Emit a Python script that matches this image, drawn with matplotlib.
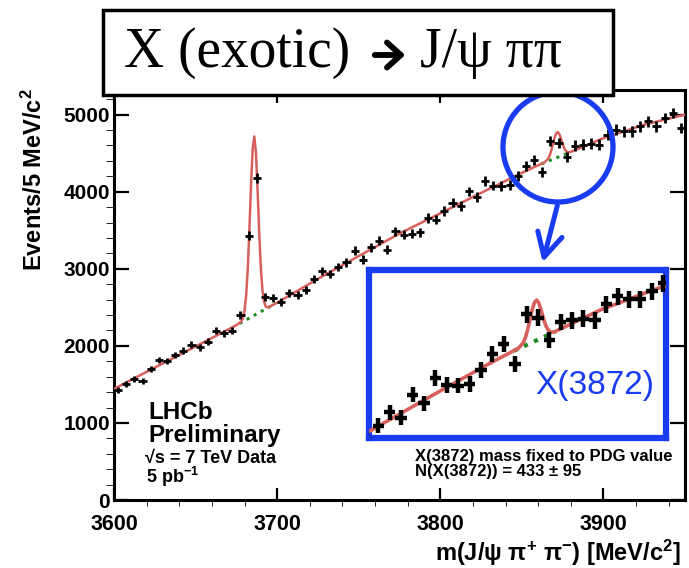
import numpy as np
import matplotlib.pyplot as plt
from matplotlib.patches import Rectangle, Ellipse, FancyArrowPatch

plt.rcParams['font.family'] = ['Liberation Sans', 'DejaVu Sans']
plt.rcParams['font.weight'] = 'bold'
plt.rcParams['mathtext.fontset'] = 'custom'
plt.rcParams['mathtext.bf'] = 'Liberation Sans:bold'
plt.rcParams['mathtext.rm'] = 'Liberation Sans:bold'
plt.rcParams['mathtext.default'] = 'bf'

# data: 5 MeV bins, m(J/psi pi+ pi-)
mass = [3602.5, 3607.5, 3612.5, 3617.5, 3622.5, 3627.5, 3632.5, 3637.5, 3642.5, 3647.5,
        3652.5, 3657.5, 3662.5, 3667.5, 3672.5, 3677.5, 3682.5, 3687.5, 3692.5, 3697.5,
        3702.5, 3707.5, 3712.5, 3717.5, 3722.5, 3727.5, 3732.5, 3737.5, 3742.5, 3747.5,
        3752.5, 3757.5, 3762.5, 3767.5, 3772.5, 3777.5, 3782.5, 3787.5, 3792.5, 3797.5,
        3802.5, 3807.5, 3812.5, 3817.5, 3822.5, 3827.5, 3832.5, 3837.5, 3842.5, 3847.5,
        3852.5, 3857.5, 3862.5, 3867.5, 3872.5, 3877.5, 3882.5, 3887.5, 3892.5, 3897.5,
        3902.5, 3907.5, 3912.5, 3917.5, 3922.5, 3927.5, 3932.5, 3937.5, 3942.5, 3947.5]
events = [1430, 1506, 1567, 1550, 1701, 1818, 1805, 1883, 1939, 2013,
          1983, 2056, 2199, 2165, 2199, 2403, 3429, 4178, 2632, 2619,
          2570, 2684, 2662, 2722, 2872, 2970, 2930, 3022, 3082, 3234,
          3117, 3277, 3364, 3247, 3485, 3442, 3455, 3472, 3658, 3636,
          3750, 3860, 3815, 4004, 3932, 4138, 4080, 4078, 4091, 4203,
          4333, 4416, 4250, 4660, 4632, 4451, 4597, 4610, 4623, 4610,
          4740, 4805, 4783, 4783, 4848, 4913, 4848, 4957, 5022, 4827]

# fit curve (signal + background)
fit_m = [3600, 3625, 3650, 3675, 3678, 3679, 3680, 3681, 3682, 3683, 3684, 3685, 3686,
         3687, 3688, 3689, 3690, 3691, 3692, 3693, 3694, 3695, 3700, 3725, 3750, 3775,
         3800, 3825, 3850, 3864, 3866, 3867, 3868, 3869, 3870, 3871, 3872, 3873, 3874,
         3875, 3876, 3877, 3878, 3879, 3880, 3900, 3925, 3950]
fit_n = [1443, 1718, 1992, 2268, 2315, 2359, 2455, 2652, 3002, 3513, 4090, 4554, 4717,
         4508, 4026, 3474, 3015, 2722, 2571, 2514, 2499, 2504, 2560, 2870, 3165, 3457,
         3720, 3985, 4245, 4382, 4425, 4468, 4532, 4613, 4696, 4756, 4775, 4746, 4687,
         4620, 4565, 4531, 4515, 4513, 4518, 4695, 4870, 5000]

# background only, under the two peaks
bkg1_m = [3677, 3696]
bkg1_n = [2291, 2514]
bkg2_m = [3862, 3880]
bkg2_n = [4361, 4516]

W, H = 689, 568
red = '#d8605c'
green = '#1f8a1f'
blue = '#1a3cf0'

fig = plt.figure(figsize=(W / 100, H / 100), dpi=100)
ax = fig.add_axes([114 / W, (H - 500) / H, (685 - 114) / W, (500 - 90) / H])

yerr = np.sqrt(events)
ax.plot(bkg1_m, bkg1_n, ':', color=green, lw=2.2, zorder=2)
ax.plot(bkg2_m, bkg2_n, ':', color=green, lw=2.2, zorder=2)
ax.plot(fit_m, fit_n, color=red, lw=1.8, zorder=3)
ax.errorbar(mass, events, xerr=2.5, yerr=yerr, fmt='none', ecolor='black',
            elinewidth=2.0, capsize=0, zorder=4)

ax.set_xlim(3600, 3950)
ax.set_ylim(0, 5320)
ax.set_xticks([3600, 3700, 3800, 3900])
ax.set_xticks(np.arange(3600, 3951, 20), minor=True)
ax.set_yticks([0, 1000, 2000, 3000, 4000, 5000])
ax.set_yticks(np.arange(0, 5301, 200), minor=True)
ax.tick_params(direction='in', top=True, right=True, width=1.6)
ax.tick_params(axis='x', which='major', length=9, labelsize=15.5, pad=10)
ax.tick_params(axis='x', which='minor', length=4.5)
ax.tick_params(axis='y', which='major', length=11, labelsize=15, pad=3)
ax.tick_params(axis='y', which='minor', length=5.5)
for s in ax.spines.values():
    s.set_linewidth(2.2)

fig.text(681 / W, 1 - 553 / H, r'm(J/ψ π$^{+}$ π$^{-}$) [MeV/c$^{2}$]',
         ha='right', va='center', fontsize=17, fontweight='bold')
fig.text(34 / W, 1 - 88 / H, r'Events/5 MeV/c$^{2}$', rotation=90,
         ha='center', va='top', fontsize=17, fontweight='bold')

ax.text(0.0595, 0.2146, 'LHCb', transform=ax.transAxes,
        fontsize=17.5, fontweight='bold', va='center', ha='left')
ax.text(0.0595, 0.1585, 'Preliminary', transform=ax.transAxes,
        fontsize=17.5, fontweight='bold', va='center', ha='left')
ax.text(0.054, 0.102, '√s = 7 TeV Data', transform=ax.transAxes,
        fontsize=13, fontweight='bold', va='center', ha='left')
ax.text(0.056, 0.056, r'5 pb$^{-1}$', transform=ax.transAxes,
        fontsize=13, fontweight='bold', va='center', ha='left')
ax.text(0.527, 0.107, 'X(3872) mass fixed to PDG value', transform=ax.transAxes,
        fontsize=12, fontweight='bold', va='center', ha='left')
ax.text(0.527, 0.0707, 'N(X(3872)) = 433 ± 95', transform=ax.transAxes,
        fontsize=12, fontweight='bold', va='center', ha='left')

# zoomed inset around the X(3872)
ins = fig.add_axes([369 / W, (H - 438) / H, (666 - 369) / W, (438 - 270) / H])
ins.plot(bkg2_m, bkg2_n, ':', color=green, lw=3, zorder=2)
ins.plot(fit_m, fit_n, color=red, lw=2.6, zorder=3)
ins.errorbar(mass, events, xerr=2.5, yerr=yerr, fmt='none', ecolor='black',
             elinewidth=3.2, capsize=0, zorder=4)
ins.set_xlim(3798.4, 3928.7)
ins.set_ylim(3650, 5020)
ins.set_xticks([])
ins.set_yticks([])
for s in ins.spines.values():
    s.set_linewidth(4.5)
    s.set_color(blue)
ins.text(0.76, 0.31, 'X(3872)', transform=ins.transAxes, color=blue,
         fontsize=24, fontweight='normal', ha='center', va='center')

# circle + arrow pointing to the inset
circ = Ellipse((558 / W, 1 - 147 / H), 110 / W, 110 / H, transform=fig.transFigure,
               fill=False, edgecolor=blue, lw=3.8, zorder=5)
fig.add_artist(circ)
arr = FancyArrowPatch((558 / W, 1 - 203 / H), (542 / W, 1 - 265 / H),
                      transform=fig.transFigure, color=blue, lw=3.6,
                      arrowstyle='->,head_length=17,head_width=9', zorder=5)
fig.add_artist(arr)

# title box
box = Rectangle((103 / W, 1 - 95 / H), 510 / W, 85 / H, transform=fig.transFigure,
                facecolor='white', edgecolor='black', lw=2.5, zorder=10)
fig.add_artist(box)
serif = ['Liberation Serif', 'DejaVu Serif']
fig.text(350 / W, 1 - 53 / H, 'X (exotic)', ha='right', va='center',
         fontsize=40, fontweight='normal', family=serif, zorder=11)
fig.text(420 / W, 1 - 53 / H, 'J/ψ ππ', ha='left', va='center',
         fontsize=40, fontweight='normal', family=serif, zorder=11)
tarr = FancyArrowPatch((372 / W, 1 - 55 / H), (408 / W, 1 - 55 / H),
                       transform=fig.transFigure, color='black', lw=4.2,
                       arrowstyle='->,head_length=10,head_width=9', zorder=12)
fig.add_artist(tarr)

fig.savefig('out.png', dpi=100)
